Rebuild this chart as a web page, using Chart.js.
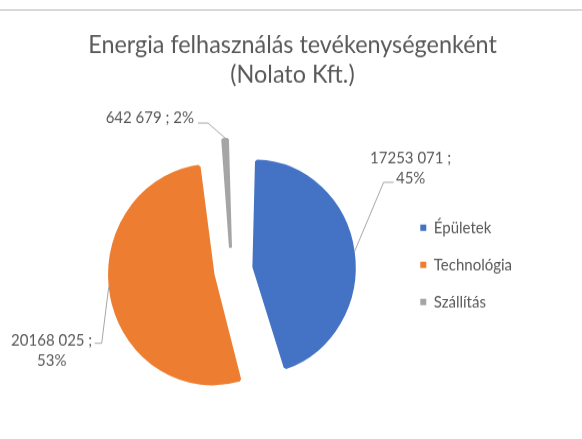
<!DOCTYPE html>
<html>
<head>
<meta charset="utf-8">
<script src="https://cdn.jsdelivr.net/npm/chart.js@4/dist/chart.umd.min.js"></script>
<style>
  body { margin: 0; background: #fff; }
  #wrap { position: relative; width: 582px; height: 439px; overflow: hidden; }
  /* the reference picture is a little taller than wide, stretch the drawing the same way */
  #energyChart { transform: scaleY(1.0604); transform-origin: 0 0; }
  #rule { position: absolute; left: 0; top: 9px; width: 582px; height: 2px; background: #d9d9d9; }
</style>
</head>
<body>
<div id="wrap">
  <canvas id="energyChart" width="582" height="414"></canvas>
  <div id="rule"></div>
</div>
<script>
const categories = ['Épületek', 'Technológia', 'Szállítás'];
const energyValues = [17253071, 20168025, 642679];
const sliceColors = ['#4472C4', '#ED7D31', '#A5A5A5'];
const titleLines = ['Energia felhasználás tevékenységenként', '(Nolato Kft.)'];

const total = energyValues.reduce((a, b) => a + b, 0);

// 17253071 -> "17253 071" like the excel label
const fmt = v => {
    let s = String(v);
    return s.slice(0, -3) + ' ' + s.slice(-3);
}
const pct = v => Math.round(v / total * 100) + '%';

const labelLines = (i) => {
    let v = energyValues[i];
    if (i === 2) return [fmt(v) + ' ; ' + pct(v)];
    return [fmt(v) + ' ;', pct(v)];
}

// where each callout sits, relative to the point where it touches the slice
const calloutLayout = [
    { shift: 0, path: [[29, -65], [39, -65]], align: 'center', text: [56, -88] },
    { shift: 5, path: [[-7, 53], [-14, 53]], align: 'center', text: [-57, 50] },
    { shift: 0, path: [[-17, -14], [-27, -14]], align: 'right', text: [-31, -18.5] }
];

const calloutPlugin = {
    id: 'callouts',
    afterDatasetsDraw(chart) {
        const ctx = chart.ctx;
        const arcs = chart.getDatasetMeta(0).data;
        ctx.save();
        ctx.font = '15px Lato';
        ctx.fillStyle = '#595959';
        ctx.strokeStyle = '#a6a6a6';
        ctx.lineWidth = 1;
        arcs.forEach((arc, i) => {
            const lay = calloutLayout[i];
            const mid = (arc.startAngle + arc.endAngle) / 2;
            const move = (arc.options.offset || 0) / 4;
            const fix = 1 - Math.sin(Math.min(Math.PI, arc.endAngle - arc.startAngle));
            const r = arc.outerRadius + move * fix + arc.options.borderWidth / 2;
            const cx = arc.x + Math.cos(mid) * move;
            const cy = arc.y + Math.sin(mid) * move;
            const a = mid + lay.shift * Math.PI / 180;
            const ax = cx + Math.cos(a) * r;
            const ay = cy + Math.sin(a) * r;

            ctx.beginPath();
            ctx.moveTo(ax, ay);
            lay.path.forEach(p => ctx.lineTo(ax + p[0], ay + p[1]));
            ctx.stroke();

            ctx.textAlign = lay.align;
            ctx.textBaseline = 'middle';
            labelLines(i).forEach((t, k) => {
                ctx.fillText(t, ax + lay.text[0], ay + lay.text[1] + k * 19.3);
            });
        });
        ctx.restore();
    }
}

const config = {
    type: 'pie',
    data: {
        labels: categories,
        datasets: [{
            data: energyValues,
            backgroundColor: sliceColors,
            borderColor: sliceColors,
            borderWidth: [4, 4, 3],
            offset: [92, 78, 86]
        }]
    },
    options: {
        responsive: false,
        animation: false,
        events: [],
        radius: 83,
        layout: { padding: { top: 0, left: 63, right: 60, bottom: 0 } },
        plugins: {
            title: {
                display: true,
                text: titleLines,
                color: '#595959',
                font: { family: 'Lato', size: 23.4, weight: 'normal', lineHeight: 1.222 },
                padding: { top: 28, bottom: 11 }
            },
            legend: {
                position: 'right',
                fullSize: false,
                align: 'start',
                maxWidth: 123,
                // empty title only used to push the items down to the middle
                title: { display: true, text: ' ', font: { size: 10, lineHeight: 1.2 }, padding: { top: 79, bottom: 0 } },
                labels: {
                    boxWidth: 6,
                    boxHeight: 6,
                    padding: 20,
                    color: '#595959',
                    font: { family: 'Lato', size: 15 },
                    generateLabels: () => categories.map((c, i) => ({
                        text: c,
                        fillStyle: sliceColors[i],
                        strokeStyle: sliceColors[i],
                        lineWidth: 0,
                        fontColor: '#595959',
                        hidden: false,
                        index: i
                    }))
                }
            },
            tooltip: { enabled: false }
        }
    },
    plugins: [calloutPlugin]
};

new Chart(document.getElementById('energyChart'), config);
</script>
</body>
</html>
